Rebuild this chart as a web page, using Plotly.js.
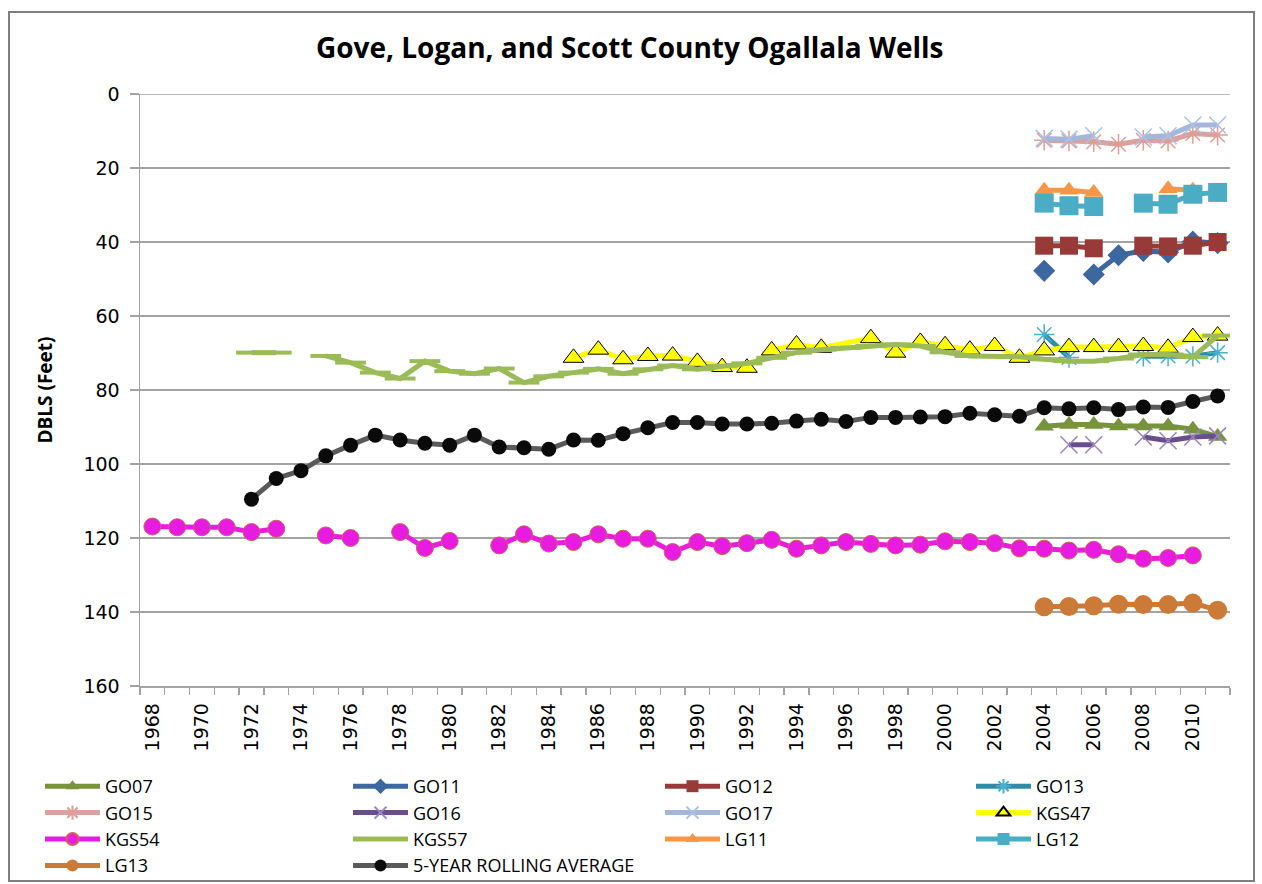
<!DOCTYPE html>
<html><head><meta charset="utf-8">
<script src="https://cdn.plot.ly/plotly-3.0.1.min.js"></script>
<style>html,body{margin:0;padding:0;background:#fff;} #chart{width:1262px;height:884px;}</style>
</head><body><div id="chart"></div>
<script>
// ---- data ----
const years = [1968,1969,1970,1971,1972,1973,1974,1975,1976,1977,1978,1979,1980,1981,1982,1983,1984,1985,1986,1987,1988,1989,1990,1991,1992,1993,1994,1995,1996,1997,1998,1999,2000,2001,2002,2003,2004,2005,2006,2007,2008,2009,2010,2011];
const recentYears = [2004,2005,2006,2007,2008,2009,2010,2011];

const GO07 = [89.8, 89.3, 89.3, 89.7, 89.7, 89.7, 90.6, 92.6];
const GO11 = [47.8, null, 48.8, 43.6, 42.4, 42.8, 39.9, 40.3];
const GO12 = [41.0, 41.0, 41.7, null, 41.0, 41.2, 41.0, 40.0];
const GO13 = [65.0, 71.2, null, null, 70.9, 70.8, 70.9, 69.9];
const GO15 = [12.5, 12.7, 12.9, 13.6, 12.5, 12.7, 10.7, 11.1];
const GO16 = [null, 94.8, 94.8, null, 92.7, 93.7, 92.7, 92.4];
const GO17 = [12.0, 12.2, 11.3, null, 11.6, 11.3, 8.4, 8.4];
const LG11 = [26.0, 26.0, 26.6, null, null, 25.6, 26.0, null];
const LG12 = [29.5, 30.2, 30.4, null, 29.5, 29.8, 27.1, 26.6];
const LG13 = [138.6, 138.5, 138.3, 137.9, 138.0, 138.0, 137.6, 139.5];

const KGS47 = [null,null,null,null,null,null,null,null,null,null,null,null,null,null,null,null,null,
  71.3, 69.1, 71.7, 70.8, 70.7, 72.4, 73.8, 74.0, 69.3, 67.7, 68.6, null, 66.0, 69.9, 67.0, 67.9, 69.1, 68.1, 71.3,
  69.3, 68.4, 68.4, 68.4, 68.1, 68.6, 65.7, 65.3];
const KGS54 = [116.9, 117.1, 117.1, 117.1, 118.4, 117.5, null, 119.3, 120.0, null, 118.4, 122.7, 120.8, null,
  122.0, 119.0, 121.5, 121.1, 119.0, 120.2, 120.2, 123.8, 121.1, 122.2, 121.4, 120.5, 122.9, 122.0, 121.1, 121.6,
  122.0, 121.8, 120.9, 121.1, 121.4, 122.8, 122.9, 123.4, 123.2, 124.4, 125.6, 125.4, 124.7, null];
const KGS57 = [null, null, null, null, 69.9, 69.9, null, 70.8, 72.6, 75.3, 76.9, 72.2, 74.9, 75.6, 74.2, 78.0,
  76.3, 75.3, 74.3, 75.6, 74.4, 73.4, 74.4, 73.5, 72.8, 71.3, 69.9, 69.1, 68.6, 68.1, 67.7, 68.1, 69.8, 70.8,
  70.8, 71.0, 71.7, 72.2, 72.2, 71.5, 70.4, 70.4, 71.1, 65.3];
const AVG5 = [null, null, null, null, 109.5, 103.9, 101.8, 97.8, 94.9, 92.2, 93.5, 94.4, 94.9, 92.2, 95.4, 95.6,
  96.0, 93.5, 93.6, 91.8, 90.2, 88.8, 88.8, 89.2, 89.2, 89.0, 88.4, 87.9, 88.5, 87.4, 87.4, 87.3, 87.2, 86.3,
  86.7, 87.1, 84.8, 85.1, 84.8, 85.3, 84.6, 84.7, 83.1, 81.6];

const yTicks = [0, 20, 40, 60, 80, 100, 120, 140, 160];

// ---- traces ----
function series(name, x, y, color, marker, legend, extra) {
  return Object.assign({
    type: 'scatter', mode: 'lines+markers', name: name, x: x, y: y,
    line: {color: color, width: 5},
    marker: marker, legend: legend, legendgroup: name, connectgaps: false,
    hoverinfo: 'x+y+name'
  }, extra || {});
}

const traces = [
  series('GO07', recentYears, GO07, '#77933C', {symbol: 'triangle-up', size: 17, color: '#77933C'}, 'legend'),
  series('GO11', recentYears, GO11, '#3D679F', {symbol: 'diamond', size: 17, color: '#3D679F'}, 'legend2'),
  series('GO12', recentYears, GO12, '#983B38', {symbol: 'square', size: 18, color: '#983B38'}, 'legend3'),
  series('GO13', recentYears, GO13, '#2E8CA6', {symbol: 'asterisk-open', size: 17, color: '#4AAFCB', line: {color: '#4AAFCB', width: 1.5}}, 'legend4'),
  series('GO15', recentYears, GO15, '#D9A3A1', {symbol: 'asterisk-open', size: 17, color: '#E09C98', line: {color: '#E09C98', width: 1.5}}, 'legend'),
  series('GO16', recentYears, GO16, '#6A4E8C', {symbol: 'x-thin-open', size: 17, color: '#9A85BC', line: {color: '#9A85BC', width: 1.5}}, 'legend2'),
  series('GO17', recentYears, GO17, '#A4B7DA', {symbol: 'x-thin-open', size: 17, color: '#A9C2E6', line: {color: '#A9C2E6', width: 1.5}}, 'legend3'),
  series('KGS47', years, KGS47, '#FFFF00', {symbol: 'triangle-up', size: 18, color: '#FFFF00', line: {color: '#000000', width: 1}}, 'legend4', {connectgaps: true}),
  series('KGS54', years, KGS54, '#E81CE0', {symbol: 'circle', size: 17, color: '#E81CE0', line: {color: '#D0605A', width: 1}}, 'legend'),
  series('KGS57', years, KGS57, '#9BBB59', {symbol: 'line-ew-open', size: 22, color: '#9BBB59', line: {color: '#9BBB59', width: 4}}, 'legend2'),
  series('LG11', recentYears, LG11, '#F79646', {symbol: 'triangle-up', size: 17, color: '#F79646'}, 'legend3'),
  series('LG12', recentYears, LG12, '#4BACC6', {symbol: 'square', size: 19, color: '#4BACC6'}, 'legend4'),
  series('LG13', recentYears, LG13, '#CC7A38', {symbol: 'circle', size: 19, color: '#CC7A38'}, 'legend'),
  series('5-YEAR ROLLING AVERAGE', years, AVG5, '#5A5A5A', {symbol: 'circle', size: 15, color: '#0A0A0A'}, 'legend2')
];

// ---- layout ----
const W = 1262, H = 884;
const M = {l: 140, r: 32, t: 94, b: 198, autoexpand: false};
const PW = W - M.l - M.r, PH = H - M.t - M.b;
const px = v => (v - M.l) / PW;
const py = v => (H - M.b - v) / PH;

const legendFont = {family: 'Open Sans, Liberation Sans, sans-serif', size: 18, color: '#000'};
function legendAt(xpx) {
  return {x: px(xpx), y: py(768), xanchor: 'left', yanchor: 'top', orientation: 'v',
    font: legendFont, tracegroupgap: 0, traceorder: 'grouped', bgcolor: 'rgba(0,0,0,0)',
    itemwidth: 55, itemsizing: 'constant', itemclick: false, itemdoubleclick: false};
}

const tickFont = {family: 'DejaVu Sans, sans-serif', size: 19, color: '#000'};
const gridColor = '#A3A3A3';

const layout = {
  width: W, height: H, margin: M,
  paper_bgcolor: '#fff', plot_bgcolor: '#fff',
  title: {text: 'Gove, Logan, and Scott County Ogallala Wells',
    font: {family: 'Open Sans, Liberation Sans, sans-serif', size: 28, color: '#000', weight: 'bold'},
    x: 0.499, xanchor: 'center', xref: 'container', y: 1 - 48 / H, yanchor: 'middle', yref: 'container'},
  xaxis: {
    range: [1967.5, 2011.5], tickmode: 'linear', tick0: 1968, dtick: 2, ticks: '',
    tickangle: -90, tickfont: tickFont, showgrid: false, zeroline: false, automargin: false,
    showline: true, linecolor: gridColor, linewidth: 1.5,
    minor: {ticks: 'outside', tickmode: 'linear', tick0: 1967.5, dtick: 1, ticklen: 7, tickwidth: 1.3, tickcolor: gridColor, showgrid: false},
    ticklabelstandoff: 8, fixedrange: true
  },
  yaxis: {
    range: [160, 0], tickmode: 'array', tickvals: yTicks, ticktext: yTicks.map(String),
    ticks: 'outside', ticklen: 9, tickwidth: 1.3, tickcolor: gridColor, automargin: false,
    tickfont: tickFont, showgrid: true, gridcolor: gridColor, gridwidth: 1.3, zeroline: false,
    showline: true, linecolor: gridColor, linewidth: 1.5, ticklabelstandoff: 6,
    title: {text: 'DBLS (Feet)', font: {family: 'Open Sans, Liberation Sans, sans-serif', size: 19, color: '#000', weight: 'bold'}, standoff: 26},
    fixedrange: true
  },
  showlegend: true,
  legend: legendAt(40),
  legend2: legendAt(348),
  legend3: legendAt(660),
  legend4: legendAt(971),
  shapes: [
    {type: 'line', xref: 'paper', yref: 'y', x0: 0, x1: 1, y0: 0, y1: 0, layer: 'below', line: {color: gridColor, width: 1.3}},
    {type: 'rect', xref: 'paper', yref: 'paper', x0: px(9), x1: px(1254), y0: py(881), y1: py(12), layer: 'below', line: {color: '#7F7F7F', width: 2}, fillcolor: 'rgba(0,0,0,0)'}
  ]
};

Plotly.newPlot('chart', traces, layout, {displayModeBar: false, staticPlot: true});
</script></body></html>
